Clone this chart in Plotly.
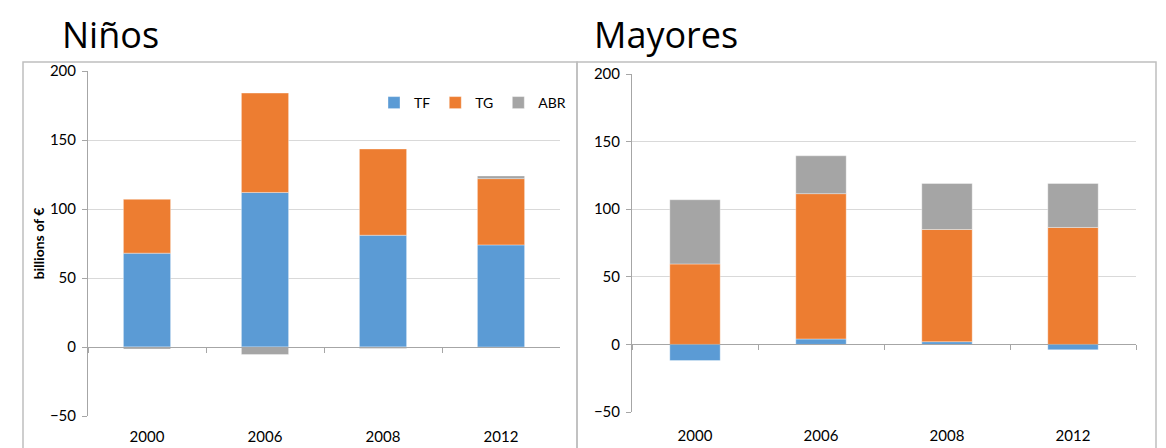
import plotly.graph_objects as go

years = ["2000", "2006", "2008", "2012"]
series = ["TF", "TG", "ABR"]
colors = {"TF": "#5B9BD5", "TG": "#ED7D31", "ABR": "#A5A5A5"}

# Niños (billions of €)
ninos_tf = [68, 112, 81, 74]
ninos_tg = [39, 72, 62.5, 48]
ninos_abr = [-1.5, -5.5, -1, 2]

# Mayores (billions of €)
mayores_tf = [-12, 4, 2, -4]
mayores_tg = [59.5, 107.5, 83, 86.5]
mayores_abr = [47.5, 28, 34, 32.5]

W, H = 1166, 448
OFF = 8  # page body margin
y_range = [-50, 200]
font_name = "Lato, Carlito, Calibri, sans-serif"
title_font = "Open Sans, Lato, sans-serif"
grid = "#D9D9D9"
axis_gray = "#A6A6A6"
TICKLEN = 5


def fx(p):
    return (p - OFF) / W


def fy(p):
    return (H - (p - OFF)) / H


def zero_pos(dom):
    return dom[0] + (0 - y_range[0]) / (y_range[1] - y_range[0]) * (dom[1] - dom[0])


left_x = [fx(88), fx(560)]
left_y = [fy(416), fy(71)]
right_x = [fx(632), fx(1136)]
right_y = [fy(412), fy(74)]

fig = go.Figure()

panels = [
    ("x", "y", {"TF": ninos_tf, "TG": ninos_tg, "ABR": ninos_abr}, True),
    ("x2", "y2", {"TF": mayores_tf, "TG": mayores_tg, "ABR": mayores_abr}, False),
]
for xa, ya, vals, legend in panels:
    for s in series:
        fig.add_trace(
            go.Bar(
                x=years,
                y=vals[s],
                name=s,
                marker=dict(color=colors[s], line=dict(width=0.6, color="rgba(255,255,255,0.6)")),
                xaxis=xa,
                yaxis=ya,
                showlegend=legend,
                legendgroup=s,
            )
        )

tick_font = dict(family=font_name, size=15, color="#000000")

# category axis drawn at y = 0 with boundary ticks; labels pushed down to the bottom
bar_x = dict(
    type="category",
    showticklabels=True,
    tickfont=tick_font,
    showline=True,
    linecolor=axis_gray,
    linewidth=1,
    ticks="outside",
    tickson="boundaries",
    ticklen=TICKLEN,
    tickcolor=axis_gray,
    showgrid=False,
    anchor="free",
    automargin=False,
)
y_common = dict(
    range=y_range,
    dtick=50,
    tickfont=tick_font,
    showgrid=True,
    gridcolor=grid,
    gridwidth=1,
    showline=True,
    linecolor=axis_gray,
    ticks="outside",
    ticklen=TICKLEN,
    tickcolor=axis_gray,
    zeroline=False,
    automargin=False,
    ticklabelstandoff=3,
)

fig.update_layout(
    width=W,
    height=H,
    margin=dict(l=0, r=0, t=0, b=0),
    paper_bgcolor="white",
    plot_bgcolor="white",
    barmode="relative",
    bargap=0.6,
    font=dict(family=font_name, size=14, color="#000000"),
    xaxis=dict(bar_x, domain=left_x, position=zero_pos(left_y), ticklabelstandoff=431 - 347 - TICKLEN - 3),
    xaxis2=dict(bar_x, domain=right_x, position=zero_pos(right_y), ticklabelstandoff=431 - 345 - TICKLEN - 3),
    yaxis=dict(
        y_common,
        domain=left_y,
        anchor="x",
        title=dict(text="<b>billions of €</b>", font=dict(family=font_name, size=14), standoff=1),
    ),
    yaxis2=dict(y_common, domain=right_y, anchor="x2"),
    legend=dict(
        orientation="h",
        x=fx(374),
        y=fy(87),
        xanchor="left",
        yanchor="top",
        font=dict(family=font_name, size=14),
        itemwidth=30,
        traceorder="normal",
        bgcolor="rgba(0,0,0,0)",
    ),
    shapes=[
        dict(type="rect", xref="paper", yref="paper", x0=fx(23), x1=fx(577), y0=-0.05, y1=fy(62),
             line=dict(color="#BFBFBF", width=1.5)),
        dict(type="rect", xref="paper", yref="paper", x0=fx(577), x1=fx(1156), y0=-0.05, y1=fy(62),
             line=dict(color="#BFBFBF", width=1.5)),
    ],
    annotations=[
        dict(text="Niños", xref="paper", yref="paper", x=fx(60), y=1.0, showarrow=False,
             font=dict(family=title_font, size=36, color="#000000"), xanchor="left", yanchor="top"),
        dict(text="Mayores", xref="paper", yref="paper", x=fx(592), y=1.0, showarrow=False,
             font=dict(family=title_font, size=36, color="#000000"), xanchor="left", yanchor="top"),
    ],
)

fig.write_html("out.html")
